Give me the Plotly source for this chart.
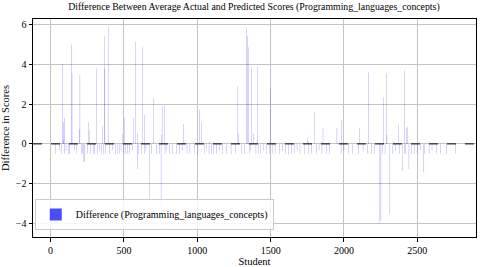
import plotly.graph_objects as go

# Students with a non-zero difference (all other students have difference 0)
pos_students = [79, 86, 88, 97, 143, 146, 195, 200, 256, 265, 311, 352, 365, 369, 392,
                488, 503, 567, 578, 592, 624, 642, 703, 755, 760, 776, 907, 1016, 1027,
                1084, 1277, 1280, 1338, 1342, 1349, 1372, 1383, 1410, 1497, 1750, 1758,
                1800, 1857, 1952, 1982, 2107, 2166, 2268, 2290, 2293, 2370, 2411, 2427, 2431]
pos_values = [4.05, 1.1, 0.2, 1.3, 5.0, 3.57, 0.75, 3.5, 1.1, 0.7, 3.8, 0.9, 5.45, 3.8, 5.9,
              0.5, 1.3, 1.3, 5.15, 0.55, 4.9, 1.45, 2.3, 0.45, 1.9, 1.95, 1.0, 1.75, 1.1,
              0.15, 2.9, 0.5, 5.87, 5.45, 4.87, 3.86, 0.53, 3.9, 2.78, 0.3, 0.15,
              1.6, 0.8, 0.8, 1.22, 0.8, 3.6, 2.35, 3.57, 0.45, 0.96, 3.7, 0.77, 0.85]

neg_students = [35, 60, 75, 95, 105, 120, 130, 165, 175, 210, 220, 227, 233, 250, 270, 290,
                300, 320, 335, 345, 360, 375, 400, 420, 440, 455, 470, 480, 500, 510, 525,
                540, 560, 590, 600, 620, 640, 650, 673, 690, 720, 740, 753, 780, 790, 810,
                830, 860, 880, 900, 930, 950, 980, 1000, 1050, 1065, 1080, 1095, 1110,
                1130, 1150, 1170, 1200, 1230, 1260, 1300, 1320, 1355, 1365, 1400, 1415,
                1430, 1450, 1470, 1490, 1510, 1530, 1560, 1580, 1600, 1620, 1640, 1660,
                1680, 1700, 1730, 1760, 1780, 1810, 1830, 1850, 1880, 1900, 1980, 2000,
                2030, 2060, 2100, 2130, 2160, 2190, 2210, 2245, 2252, 2260, 2280, 2313,
                2330, 2350, 2380, 2397, 2410, 2420, 2443, 2460, 2480, 2500, 2520, 2540,
                2550, 2580, 2600, 2630, 2660, 2700, 2760]
neg_values = [-0.5, -0.33, -0.5, -0.5, -0.33, -0.5, -0.5, -0.33, -0.5, -0.5, -0.5, -0.93, -0.9, -0.5, -0.5, -0.5,
              -0.5, -0.5, -0.33, -0.5, -0.5, -0.5, -0.5, -0.33, -0.5, -0.5, -0.5, -0.33, -0.5, -0.5, -0.5,
              -0.5, -0.33, -1.26, -0.5, -0.5, -0.5, -0.33, -3.0, -0.5, -0.5, -0.5, -3.25, -0.5, -0.33, -0.5,
              -0.5, -0.5, -0.5, -0.33, -0.5, -0.5, -0.5, -0.5, -0.5, -0.33, -0.5, -0.5, -0.5,
              -0.5, -0.33, -0.5, -0.5, -0.5, -0.5, -0.5, -0.5, -0.5, -0.33, -0.5, -0.5,
              -0.5, -0.33, -0.5, -0.5, -0.5, -0.5, -0.5, -0.33, -0.5, -0.5, -0.5, -0.5,
              -0.33, -0.5, -0.5, -0.5, -0.5, -0.5, -0.33, -0.5, -0.5, -0.5, -0.5, -0.33,
              -0.5, -0.5, -0.5, -0.33, -0.5, -0.5, -0.5, -3.95, -3.85, -0.5, -0.5, -3.53,
              -0.5, -0.33, -0.5, -1.35, -0.5, -0.5, -1.27, -0.5, -0.5, -0.5, -0.33, -1.43,
              -0.5, -0.5, -0.33, -0.5, -0.5, -0.5, -0.5]

students = pos_students + neg_students
differences = pos_values + neg_values

x_ticks = [0, 500, 1000, 1500, 2000, 2500]
y_ticks = [-4, -2, 0, 2, 4, 6]

FONT = "Liberation Serif, Times New Roman, serif"

fig = go.Figure()
fig.add_trace(go.Bar(
    x=students, y=differences, width=1.6,
    marker=dict(color="rgba(0,0,255,0.7)", line=dict(width=0)),
    name="Difference (Programming_languages_concepts)",
    showlegend=True,
))

fig.add_hline(y=0, line=dict(color="black", width=1, dash="dash"))

axis_common = dict(
    showline=True, linecolor="black", linewidth=1, mirror=True,
    ticks="outside", ticklen=3.5, tickcolor="black", tickwidth=1,
    showgrid=True, gridcolor="#c4c4c4", gridwidth=1, zeroline=False,
    tickfont=dict(family=FONT, size=10, color="black"),
    automargin=False,
)

fig.update_xaxes(range=[-120, 2900], tickvals=x_ticks,
                 title=dict(text="Student", font=dict(family=FONT, size=10.5, color="black")),
                 **axis_common)
fig.update_yaxes(range=[-4.69, 6.29], tickvals=y_ticks,
                 title=dict(text="Difference in Scores", font=dict(family=FONT, size=10.5, color="black")),
                 **axis_common)

fig.update_layout(
    width=480, height=267,
    margin=dict(l=33, r=4, t=19, b=30),
    paper_bgcolor="white", plot_bgcolor="white",
    title=dict(text="Difference Between Average Actual and Predicted Scores (Programming_languages_concepts)",
               font=dict(family=FONT, size=9.8, color="black"),
               x=0.529, xanchor="center", y=0.99, yanchor="top"),
    legend=dict(x=0.004, y=0.032, xanchor="left", yanchor="bottom",
                bgcolor="rgba(255,255,255,0.85)", bordercolor="#cccccc", borderwidth=1,
                font=dict(family=FONT, size=10, color="black")),
    showlegend=True,
)

fig.write_html("out.html", config={"displayModeBar": False},
               post_script="document.body.style.margin='0px';")
